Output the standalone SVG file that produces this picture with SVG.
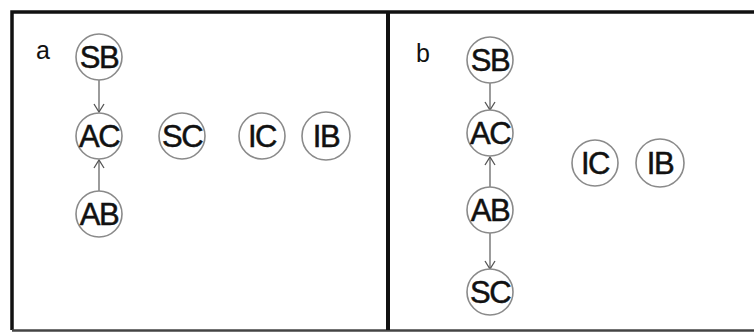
<svg xmlns="http://www.w3.org/2000/svg" width="754" height="334" viewBox="0 0 754 334">
<style>
.frame{fill:none;stroke:#111;stroke-width:3.5}
.node circle{fill:#fff;stroke:#8a8a8a;stroke-width:1.6}
.node text{font-family:"Liberation Sans",Arial,sans-serif;font-size:31px;fill:#111;stroke:#111;stroke-width:0.5;text-anchor:middle;letter-spacing:-1.5px}
.lbl{font-family:"Liberation Sans",Arial,sans-serif;font-size:25px;fill:#111}
.edge{fill:none;stroke:#666;stroke-width:1.3;marker-end:url(#arr)}
</style>
<defs>
<marker id="arr" markerWidth="12" markerHeight="12" refX="10" refY="6" orient="auto" markerUnits="userSpaceOnUse">
<path d="M2,1 L10,6 L2,11" fill="none" stroke="#555" stroke-width="1.3"/>
</marker>
</defs>
<rect x="0" y="0" width="754" height="334" fill="#fff"/>
<g id="frames">
<path class="frame" d="M760,12 L12,12 L12,330"/>
<line x1="12" y1="330.5" x2="760" y2="330.5" stroke="#444" stroke-width="2.5"/>
<line x1="388" y1="12" x2="388" y2="330" stroke="#111" stroke-width="4"/>
</g>
<text class="lbl" x="36" y="59">a</text>
<text class="lbl" x="416" y="62">b</text>
<g id="connectors">
<line class="edge" x1="99" y1="80" x2="99" y2="112"/>
<line class="edge" x1="99" y1="191" x2="99" y2="160"/>
<line class="edge" x1="490" y1="83" x2="490" y2="110"/>
<line class="edge" x1="490" y1="187" x2="490" y2="157"/>
<line class="edge" x1="490" y1="233" x2="490" y2="269"/>
</g>
<g id="a-SB" class="node"><circle cx="99" cy="57" r="23"/><text x="99" y="68">SB</text></g>
<g id="a-AC" class="node"><circle cx="99" cy="136" r="23"/><text x="99" y="147">AC</text></g>
<g id="a-AB" class="node"><circle cx="99" cy="214" r="23"/><text x="99" y="225">AB</text></g>
<g id="a-SC" class="node"><circle cx="182" cy="136" r="23"/><text x="182" y="147">SC</text></g>
<g id="a-IC" class="node"><circle cx="262" cy="136" r="23"/><text x="262" y="147">IC</text></g>
<g id="a-IB" class="node"><circle cx="326" cy="136" r="24"/><text x="326" y="147">IB</text></g>
<g id="b-SB" class="node"><circle cx="490" cy="60" r="23"/><text x="490" y="71">SB</text></g>
<g id="b-AC" class="node"><circle cx="490" cy="133" r="23"/><text x="490" y="144">AC</text></g>
<g id="b-AB" class="node"><circle cx="490" cy="210" r="23"/><text x="490" y="221">AB</text></g>
<g id="b-SC" class="node"><circle cx="490" cy="292" r="23"/><text x="490" y="303">SC</text></g>
<g id="b-IC" class="node"><circle cx="595" cy="163" r="23"/><text x="595" y="174">IC</text></g>
<g id="b-IB" class="node"><circle cx="660" cy="163" r="24"/><text x="660" y="174">IB</text></g>
</svg>
